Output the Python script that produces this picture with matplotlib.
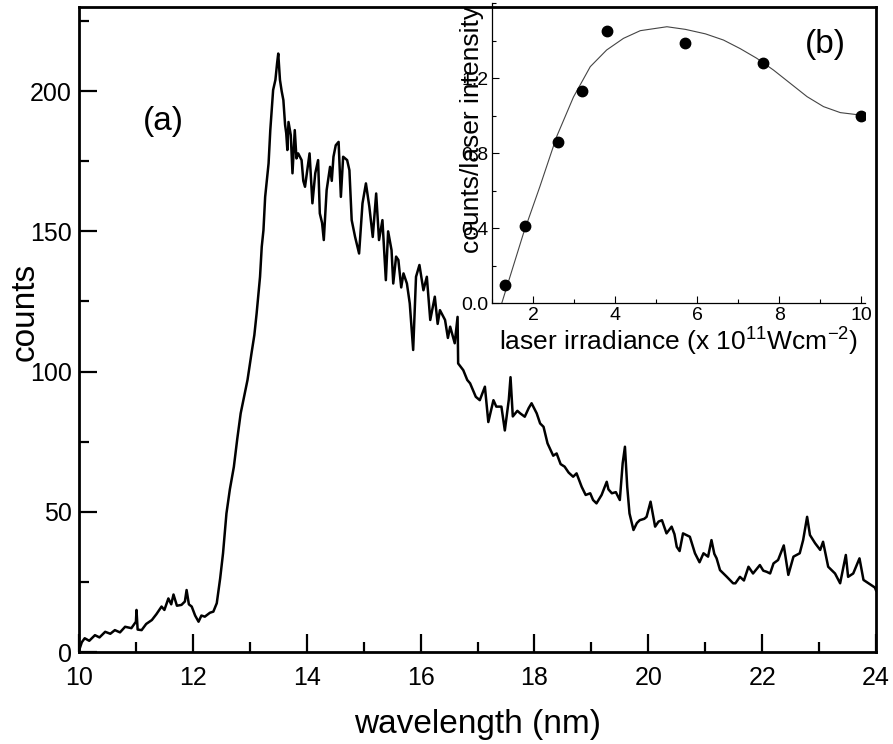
import numpy as np
import matplotlib
matplotlib.use("Agg")
import matplotlib.pyplot as plt
from matplotlib.ticker import MultipleLocator

plt.rcParams['font.family'] = ['Liberation Sans', 'DejaVu Sans']
plt.rcParams['mathtext.default'] = 'regular'

# main spectrum (wavelength nm, counts)
wavelength = [
    10.00, 10.05, 10.10, 10.18, 10.28, 10.36, 10.46, 10.55, 10.63, 10.72,
    10.81, 10.92, 11.00, 11.01, 11.03, 11.10, 11.18, 11.28, 11.36, 11.45,
    11.50, 11.57, 11.62, 11.66, 11.72, 11.80, 11.86, 11.89, 11.93, 11.98,
    12.04, 12.10, 12.15, 12.21, 12.30, 12.36, 12.42, 12.48, 12.53, 12.59,
    12.65, 12.72, 12.78, 12.84, 12.90, 12.96, 13.03, 13.08, 13.12, 13.18,
    13.21, 13.24, 13.27, 13.30, 13.33, 13.36, 13.41, 13.45, 13.48, 13.50,
    13.53, 13.56, 13.59, 13.62, 13.64, 13.66, 13.68, 13.72, 13.75, 13.79,
    13.82, 13.85, 13.91, 13.94, 13.97, 14.01, 14.05, 14.10, 14.15, 14.20,
    14.23, 14.27, 14.30, 14.35, 14.41, 14.44, 14.47, 14.51, 14.56, 14.60,
    14.64, 14.71, 14.75, 14.79, 14.85, 14.92, 14.98, 15.04, 15.10, 15.16,
    15.22, 15.27, 15.33, 15.39, 15.43, 15.49, 15.52, 15.57, 15.61, 15.66,
    15.70, 15.76, 15.81, 15.87, 15.92, 15.98, 16.05, 16.11, 16.17, 16.25,
    16.30, 16.34, 16.43, 16.48, 16.52, 16.60, 16.65, 16.66, 16.75, 16.82,
    16.87, 16.97, 17.04, 17.13, 17.19, 17.28, 17.33, 17.42, 17.48, 17.55,
    17.58, 17.62, 17.70, 17.75, 17.83, 17.90, 17.95, 18.04, 18.10, 18.16,
    18.23, 18.33, 18.39, 18.46, 18.53, 18.60, 18.68, 18.74, 18.83, 18.90,
    18.98, 19.03, 19.09, 19.18, 19.27, 19.30, 19.36, 19.43, 19.50, 19.55,
    19.59, 19.63, 19.67, 19.74, 19.80, 19.85, 19.93, 19.97, 20.04, 20.12,
    20.18, 20.24, 20.32, 20.41, 20.46, 20.50, 20.55, 20.61, 20.73, 20.82,
    20.90, 20.97, 21.05, 21.11, 21.16, 21.20, 21.26, 21.38, 21.49, 21.53,
    21.61, 21.68, 21.76, 21.84, 21.96, 22.02, 22.08, 22.14, 22.20, 22.28,
    22.38, 22.46, 22.55, 22.66, 22.72, 22.79, 22.84, 22.93, 23.02, 23.07,
    23.16, 23.28, 23.37, 23.47, 23.51, 23.60, 23.71, 23.78, 23.87, 23.98,
    24.00]
counts = [
    0.5, 3.5, 4.9, 4.0, 6.0, 5.2, 7.2, 6.5, 7.8, 7.0,
    9.0, 8.5, 10.8, 15.0, 8.0, 7.8, 10.0, 11.4, 13.5, 16.2,
    15.0, 19.1, 17.0, 20.5, 16.5, 16.8, 18.0, 22.1, 17.0, 16.2,
    13.0, 10.8, 13.0, 12.6, 14.0, 14.4, 17.4, 26.3, 35.2, 49.4,
    58.0, 66.0, 76.0, 85.1, 91.0, 97.0, 106.5, 113.0, 120.7, 133.8,
    144.5, 150.4, 162.3, 168.3, 174.2, 186.0, 200.4, 204.0, 210.0, 213.4,
    204.0, 200.0, 196.8, 188.0, 185.0, 179.0, 189.0, 184.3, 170.7, 186.1,
    176.0, 177.8, 175.4, 168.0, 165.9, 172.0, 177.8, 160.0, 170.7, 175.4,
    156.4, 153.0, 146.9, 164.7, 173.0, 168.0, 176.6, 180.7, 181.9, 162.3,
    176.6, 175.4, 171.8, 154.0, 148.0, 142.1, 160.0, 167.1, 158.8, 148.0,
    163.5, 146.9, 154.0, 132.6, 150.0, 143.3, 131.4, 141.0, 139.8, 130.0,
    135.0, 131.4, 124.3, 107.7, 133.8, 138.0, 129.0, 133.8, 118.4, 126.7,
    117.0, 121.9, 118.4, 112.0, 116.0, 110.1, 119.5, 102.9, 100.5, 97.0,
    95.8, 91.0, 89.8, 94.6, 82.0, 89.8, 87.5, 87.5, 79.0, 90.0,
    98.0, 84.0, 86.0, 85.1, 83.9, 87.0, 88.7, 85.1, 81.5, 80.3,
    74.4, 70.0, 70.8, 67.0, 66.1, 64.0, 62.5, 63.7, 58.9, 56.0,
    56.6, 54.2, 53.0, 56.0, 60.7, 58.0, 56.6, 57.0, 54.2, 67.3,
    73.2, 58.9, 49.4, 43.5, 46.0, 47.0, 47.5, 48.2, 53.6, 44.7,
    46.5, 47.0, 42.3, 44.7, 42.0, 37.5, 36.0, 42.3, 41.1, 35.2,
    32.0, 35.2, 34.0, 39.9, 35.0, 33.4, 29.2, 26.8, 24.5, 24.5,
    26.8, 25.5, 30.4, 28.0, 31.0, 29.0, 28.6, 28.0, 31.6, 32.8,
    38.0, 27.5, 34.0, 35.2, 39.9, 48.2, 41.7, 38.8, 36.4, 39.3,
    30.4, 28.0, 24.5, 34.6, 26.8, 28.0, 33.4, 25.7, 24.5, 23.0,
    22.0]

# inset: measured points and fitted curve
irradiance = [1.3, 1.8, 2.6, 3.2, 3.8, 5.7, 7.6, 10.0]
ratio = [0.10, 0.41, 0.86, 1.13, 1.45, 1.39, 1.28, 1.00]
fit_x = [1.23, 1.50, 1.76, 2.16, 2.57, 2.98, 3.39, 3.79, 4.20, 4.61, 5.26,
         5.71, 6.20, 6.64, 7.05, 7.45, 7.86, 8.27, 8.68, 9.08, 9.49, 9.98]
fit_y = [0.0, 0.19, 0.373, 0.622, 0.889, 1.10, 1.262, 1.351, 1.413, 1.454,
         1.475, 1.461, 1.437, 1.404, 1.358, 1.307, 1.244, 1.173, 1.102,
         1.049, 1.017, 1.004]

fig = plt.figure(figsize=(8.93, 7.44), dpi=100)
ax = fig.add_axes([79/893, 92/744, 797/893, 645/744])
ax.plot(wavelength, counts, color='black', lw=1.8)
ax.set_xlim(10, 24)
ax.set_ylim(0, 230)
ax.xaxis.set_major_locator(MultipleLocator(2))
ax.xaxis.set_minor_locator(MultipleLocator(1))
ax.yaxis.set_major_locator(MultipleLocator(50))
ax.yaxis.set_minor_locator(MultipleLocator(25))
ax.tick_params(which='both', direction='in', width=1.6, labelsize=18)
ax.tick_params(which='major', length=13)
ax.tick_params(which='minor', length=7)
ax.tick_params(axis='x', pad=10)
ax.tick_params(axis='y', pad=5)
for s in ax.spines.values():
    s.set_linewidth(2)
ax.set_xlabel('wavelength (nm)', fontsize=24, labelpad=14)
ax.text(-0.068, 0.527, 'counts', transform=ax.transAxes, rotation=90,
        fontsize=24, ha='center', va='center')
ax.text(11.12, 189, '(a)', fontsize=24, ha='left', va='center')

# inset
ins = fig.add_axes([492.3/893, (744 - 303.3)/744, 373/893, 300/744])
ins.patch.set_alpha(0)
ins.plot(fit_x, fit_y, color='#444444', lw=0.8)
ins.plot(irradiance, ratio, 'o', color='black', ms=7.5)
ins.set_xlim(1.0, 10.1)
ins.set_ylim(0, 1.6)
ins.spines['top'].set_visible(False)
ins.spines['right'].set_visible(False)
for s in ['left', 'bottom']:
    ins.spines[s].set_linewidth(0.9)
ins.xaxis.set_major_locator(MultipleLocator(2))
ins.xaxis.set_minor_locator(MultipleLocator(1))
ins.yaxis.set_major_locator(MultipleLocator(0.4))
ins.yaxis.set_minor_locator(MultipleLocator(0.2))
ins.set_yticks([0.0, 0.4, 0.8, 1.2])
ins.set_yticklabels(['0.0', '0.4', '0.8', '1.2'])
ins.tick_params(which='both', direction='in', width=0.8)
ins.tick_params(which='major', length=5, labelsize=14, pad=3)
ins.tick_params(which='minor', length=3)
ins.text(-0.054, 0.58, 'counts/laser intensity', transform=ins.transAxes,
         rotation=90, fontsize=19, ha='center', va='center')
ins.text(0.50, -0.13, 'laser irradiance (x 10$^{11}$Wcm$^{-2}$)',
         transform=ins.transAxes, fontsize=19, ha='center', va='center')
ins.text(8.63, 1.378, '(b)', fontsize=24, ha='left', va='center')

fig.savefig('out.png', dpi=100)
